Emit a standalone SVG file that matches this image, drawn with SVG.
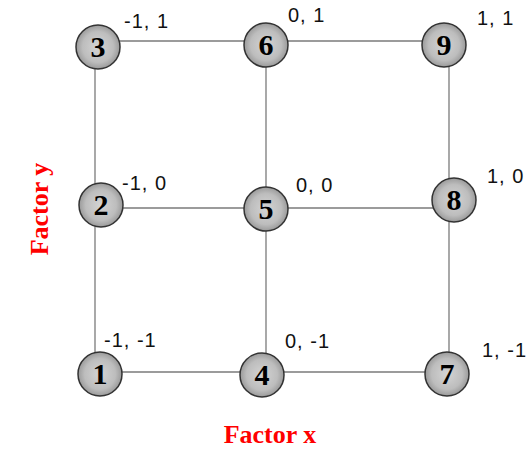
<svg xmlns="http://www.w3.org/2000/svg" width="529" height="449" viewBox="0 0 529 449">
  <defs>
    <radialGradient id="ball" cx="50%" cy="50%" r="50%">
      <stop offset="0%" stop-color="#d4d4d4"/>
      <stop offset="70%" stop-color="#bdbdbd"/>
      <stop offset="100%" stop-color="#9a9a9a"/>
    </radialGradient>
    <style>
      .edge { stroke: #7a7a7a; stroke-width: 1.3; fill: none; }
      .node circle { fill: url(#ball); stroke: #333; stroke-width: 1.5; }
      .node text { font-family: "Liberation Serif", serif; font-weight: bold; font-size: 30px; fill: #000; text-anchor: middle; }
      .coord { font-family: "Liberation Sans", Arial, sans-serif; font-size: 20px; letter-spacing: 1px; fill: #111; }
      .axis { font-family: "Liberation Serif", serif; font-weight: bold; font-size: 26px; fill: #ff0000; text-anchor: middle; }
    </style>
  </defs>
  <rect width="529" height="449" fill="#fff"/>

  <!-- grid connectors -->
  <g id="connectors">
    <line class="edge" x1="98" y1="41" x2="445" y2="41"/>
    <line class="edge" x1="100" y1="208" x2="454" y2="208"/>
    <line class="edge" x1="100" y1="372" x2="447" y2="372"/>
    <line class="edge" x1="95" y1="45" x2="95" y2="374"/>
    <line class="edge" x1="266" y1="44" x2="266" y2="375"/>
    <line class="edge" x1="449" y1="44" x2="449" y2="374"/>
  </g>

  <g id="n3" class="node"><circle cx="98" cy="47" r="22"/><text x="98" y="57">3</text></g>
  <g id="n6" class="node"><circle cx="266" cy="45" r="22"/><text x="266" y="55">6</text></g>
  <g id="n9" class="node"><circle cx="444" cy="45" r="22"/><text x="444" y="55">9</text></g>
  <g id="n2" class="node"><circle cx="101" cy="205" r="22"/><text x="101" y="215">2</text></g>
  <g id="n5" class="node"><circle cx="266" cy="209" r="22"/><text x="266" y="219">5</text></g>
  <g id="n8" class="node"><circle cx="454" cy="200" r="22"/><text x="454" y="210">8</text></g>
  <g id="n1" class="node"><circle cx="100" cy="374" r="22"/><text x="100" y="384">1</text></g>
  <g id="n4" class="node"><circle cx="262" cy="375" r="22"/><text x="262" y="385">4</text></g>
  <g id="n7" class="node"><circle cx="447" cy="374" r="22"/><text x="447" y="384">7</text></g>

  <!-- coordinate labels -->
  <g id="coords">
    <text class="coord" x="124" y="28">-1, 1</text>
    <text class="coord" x="288" y="22">0, 1</text>
    <text class="coord" x="477" y="25">1, 1</text>
    <text class="coord" x="122" y="190">-1, 0</text>
    <text class="coord" x="296" y="192">0, 0</text>
    <text class="coord" x="487" y="183">1, 0</text>
    <text class="coord" x="104" y="347">-1, -1</text>
    <text class="coord" x="285" y="348">0, -1</text>
    <text class="coord" x="482" y="357">1, -1</text>
  </g>

  <!-- axis titles -->
  <text class="axis" x="270" y="443">Factor x</text>
  <text class="axis" transform="translate(48 209) rotate(-90)">Factor y</text>
</svg>
